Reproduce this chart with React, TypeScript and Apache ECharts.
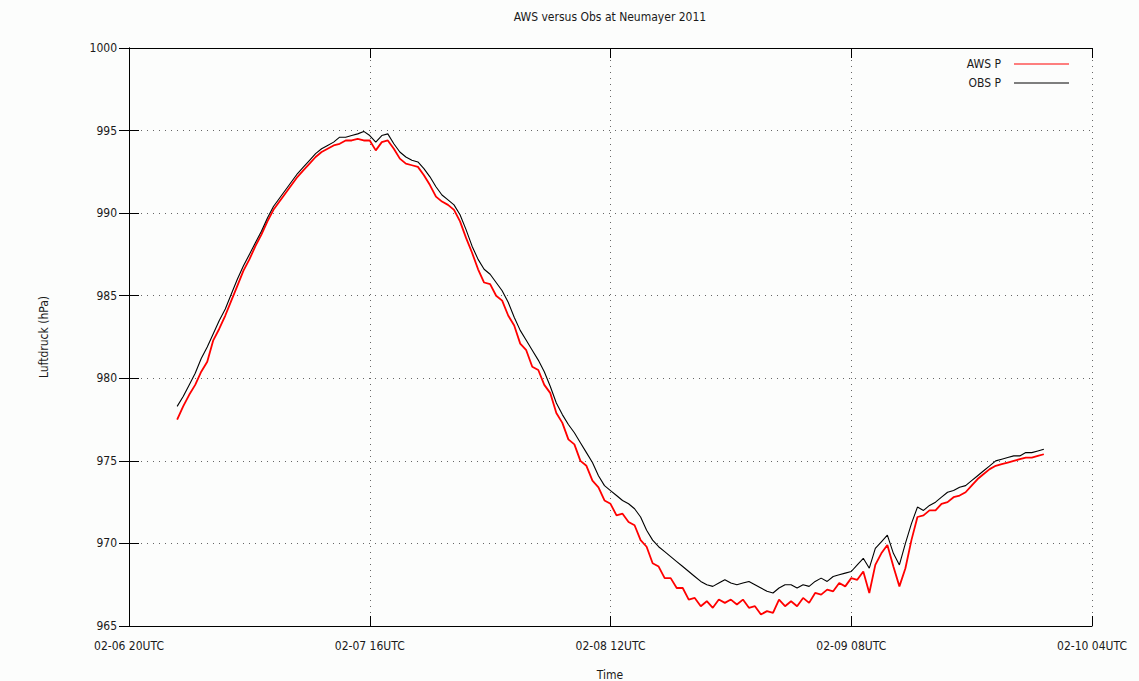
import React, { useEffect, useRef } from "react";
import * as echarts from "echarts";

// Time axis: hours after 02-06 20UTC
const xTickLabels = ["02-06 20UTC", "02-07 16UTC", "02-08 12UTC", "02-09 08UTC", "02-10 04UTC"];
const yTickLabels = ["965", "970", "975", "980", "985", "990", "995", "1000"];
const firstSampleHour = 4; // 02-07 00UTC
const sampleStepHours = 0.5;

// OBS P (hPa), half-hourly from 02-07 00UTC to 02-10 00UTC
const obsP = [
  978.3, 978.9, 979.6, 980.3, 981.2, 981.9, 982.7, 983.5, 984.2, 985.1,
  986.0, 986.8, 987.5, 988.2, 988.9, 989.7, 990.4, 990.9, 991.4, 991.9,
  992.4, 992.8, 993.2, 993.6, 993.9, 994.1, 994.3, 994.6, 994.6, 994.7,
  994.8, 994.95, 994.7, 994.3, 994.7, 994.8, 994.2, 993.7, 993.4, 993.2,
  993.1, 992.7, 992.2, 991.6, 991.1, 990.8, 990.5, 989.9, 989.0, 988.0,
  987.2, 986.6, 986.3, 985.8, 985.3, 984.6, 983.7, 982.9, 982.3, 981.7,
  981.1, 980.4, 979.5, 978.5, 977.8, 977.2, 976.7, 976.1, 975.5, 974.9,
  974.1, 973.5, 973.2, 972.9, 972.6, 972.4, 972.1, 971.6, 970.8, 970.2,
  969.8, 969.5, 969.2, 968.9, 968.6, 968.3, 968.0, 967.7, 967.5, 967.4,
  967.6, 967.8, 967.6, 967.5, 967.6, 967.7, 967.5, 967.3, 967.1, 967.0,
  967.3, 967.5, 967.5, 967.3, 967.5, 967.4, 967.7, 967.9, 967.7, 968.0,
  968.1, 968.2, 968.3, 968.7, 969.1, 968.5, 969.7, 970.1, 970.5, 969.4,
  968.7, 970.0, 971.2, 972.2, 972.0, 972.3, 972.5, 972.8, 973.1, 973.2,
  973.4, 973.5, 973.8, 974.1, 974.4, 974.7, 975.0, 975.1, 975.2, 975.3,
  975.3, 975.5, 975.5, 975.6, 975.7,
];

// AWS P (hPa), half-hourly from 02-07 00UTC to 02-10 00UTC
const awsP = [
  977.5, 978.3, 979.0, 979.6, 980.4, 981.0, 982.3, 983.0, 983.8, 984.7,
  985.6, 986.5, 987.2, 988.0, 988.7, 989.5, 990.2, 990.7, 991.2, 991.7,
  992.2, 992.6, 993.0, 993.4, 993.7, 993.9, 994.1, 994.2, 994.4, 994.4,
  994.5, 994.4, 994.4, 993.8, 994.3, 994.4, 993.9, 993.3, 993.0, 992.9,
  992.8, 992.3, 991.7, 991.0, 990.7, 990.5, 990.2, 989.5, 988.5, 987.6,
  986.6, 985.8, 985.7, 985.0, 984.7, 983.8, 983.2, 982.1, 981.7, 980.7,
  980.5, 979.6, 979.1, 977.9, 977.3, 976.3, 976.0, 975.0, 974.7, 973.8,
  973.4, 972.6, 972.4, 971.7, 971.8, 971.3, 971.1, 970.2, 969.8, 968.8,
  968.6, 967.9, 967.9, 967.3, 967.3, 966.6, 966.7, 966.2, 966.5, 966.1,
  966.6, 966.4, 966.6, 966.3, 966.6, 966.1, 966.2, 965.7, 965.9, 965.8,
  966.6, 966.2, 966.5, 966.2, 966.7, 966.4, 967.0, 966.9, 967.2, 967.1,
  967.6, 967.4, 967.9, 967.8, 968.3, 967.0, 968.7, 969.4, 969.9, 968.6,
  967.4, 968.5, 970.2, 971.6, 971.7, 972.0, 972.0, 972.4, 972.5, 972.8,
  972.9, 973.1, 973.5, 973.9, 974.2, 974.5, 974.7, 974.8, 974.9, 975.0,
  975.1, 975.2, 975.2, 975.3, 975.4,
];

const FONT = "'Liberation Sans Narrow', 'DejaVu Sans Condensed', 'DejaVu Sans Mono', monospace";
const TXT = "#1a1a1a";

function toPairs(values: number[]) {
  return values.map((v, i) => [firstSampleHour + i * sampleStepHours, v]);
}

export default function App() {
  const ref = useRef<HTMLDivElement>(null);
  useEffect(() => {
    if (!ref.current) return;
    const chart = echarts.init(ref.current, undefined, { renderer: "svg" });
    const axisLine = { show: true, lineStyle: { color: "#000", width: 1 } };
    const tick = { show: true, inside: true, length: 10, lineStyle: { color: "#000", width: 1 } };
    const split = { show: true, lineStyle: { color: "#666", width: 1, type: [1, 5] as any } };
    const xBase = { type: "value" as const, min: 0, max: 80, interval: 20 };
    const yBase = { type: "value" as const, min: 965, max: 1000, interval: 5 };
    chart.setOption({
      animation: false,
      backgroundColor: "#fcfdfc",
      grid: { left: 129, right: 47, top: 48, bottom: 55, containLabel: false },
      xAxis: [
        {
          ...xBase,
          position: "bottom",
          axisLine,
          axisTick: tick,
          splitLine: split,
          axisLabel: {
            margin: 14,
            color: TXT,
            fontFamily: FONT,
            fontSize: 12,
            formatter: (v: number) => xTickLabels[Math.round(v / 20)] ?? "",
          },
        },
        {
          ...xBase,
          position: "top",
          axisLine,
          axisTick: tick,
          splitLine: { show: false },
          axisLabel: { show: false },
        },
      ],
      yAxis: [
        {
          ...yBase,
          position: "left",
          axisLine,
          axisTick: tick,
          splitLine: split,
          axisLabel: {
            margin: 12,
            color: TXT,
            fontFamily: FONT,
            fontSize: 12,
            formatter: (v: number) => yTickLabels[Math.round((v - 965) / 5)] ?? "",
          },
        },
        {
          ...yBase,
          position: "right",
          axisLine,
          axisTick: tick,
          splitLine: { show: false },
          axisLabel: { show: false },
        },
      ],
      series: [
        {
          name: "AWS P",
          type: "line",
          xAxisIndex: 0,
          yAxisIndex: 0,
          showSymbol: false,
          data: toPairs(awsP),
          lineStyle: { color: "#ff0000", width: 1.8 },
          z: 3,
        },
        {
          name: "OBS P",
          type: "line",
          xAxisIndex: 0,
          yAxisIndex: 0,
          showSymbol: false,
          data: toPairs(obsP),
          lineStyle: { color: "#000000", width: 1.1 },
          z: 4,
        },
      ],
      graphic: [
        {
          type: "text",
          x: 610,
          y: 17,
          style: { text: "AWS versus Obs at Neumayer 2011", fill: TXT, font: `12px ${FONT}`, align: "center", verticalAlign: "middle" },
        },
        {
          type: "text",
          x: 44,
          y: 337,
          rotation: Math.PI / 2,
          style: { text: "Luftdruck (hPa)", fill: TXT, font: `12px ${FONT}`, align: "center", verticalAlign: "middle" },
        },
        {
          type: "text",
          x: 610,
          y: 675,
          style: { text: "Time", fill: TXT, font: `12px ${FONT}`, align: "center", verticalAlign: "middle" },
        },
        {
          type: "text",
          x: 1001,
          y: 64,
          style: { text: "AWS P", fill: TXT, font: `12px ${FONT}`, align: "right", verticalAlign: "middle" },
        },
        {
          type: "line",
          shape: { x1: 1014, y1: 64, x2: 1069, y2: 64 },
          style: { stroke: "#ff0000", lineWidth: 1 },
        },
        {
          type: "text",
          x: 1001,
          y: 83,
          style: { text: "OBS P", fill: TXT, font: `12px ${FONT}`, align: "right", verticalAlign: "middle" },
        },
        {
          type: "line",
          shape: { x1: 1014, y1: 83, x2: 1069, y2: 83 },
          style: { stroke: "#000000", lineWidth: 1 },
        },
      ],
    });
    return () => chart.dispose();
  }, []);
  return (
    <div
      ref={ref}
      style={{ position: "fixed", left: 0, top: 0, width: 1139, height: 681, background: "#fcfdfc" }}
    />
  );
}
